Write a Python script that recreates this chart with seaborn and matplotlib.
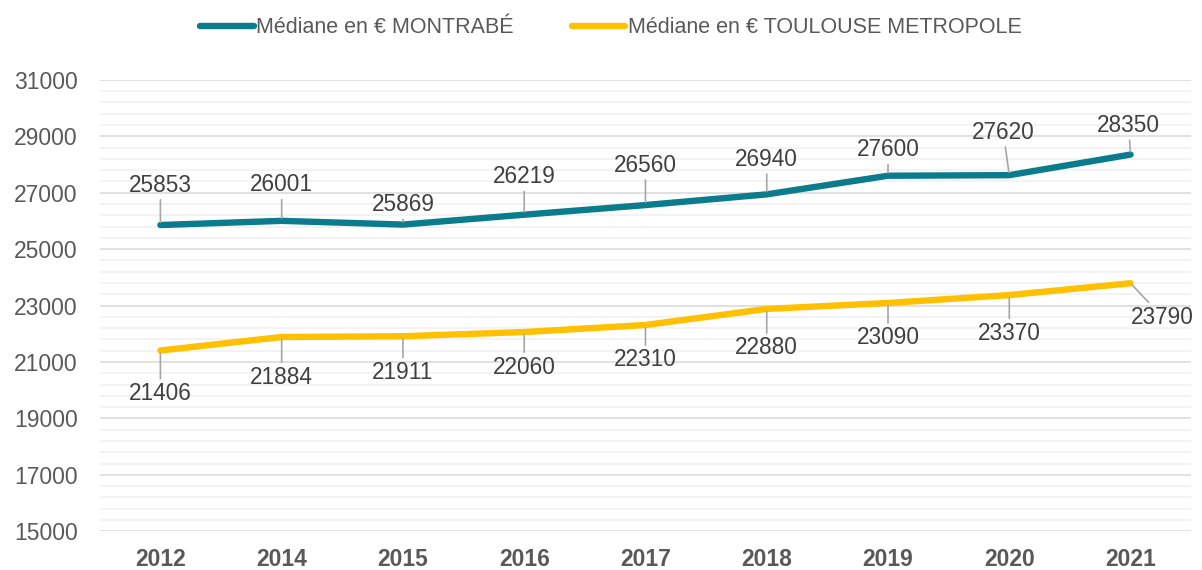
import numpy as np
import pandas as pd
import seaborn as sns
import matplotlib.pyplot as plt
from matplotlib.ticker import FixedLocator

# Data
years = ['2012', '2014', '2015', '2016', '2017', '2018', '2019', '2020', '2021']
montrabe = [25853, 26001, 25869, 26219, 26560, 26940, 27600, 27620, 28350]
toulouse = [21406, 21884, 21911, 22060, 22310, 22880, 23090, 23370, 23790]
series_names = ['Médiane en € MONTRABÉ', 'Médiane en € TOULOUSE METROPOLE']
yticks = [15000, 17000, 19000, 21000, 23000, 25000, 27000, 29000, 31000]

# label offsets in pixels (dx, dy)
off_montrabe = [(0, 40), (0, 36), (0, 20), (0, 38), (0, 40), (0, 35), (0, 26), (-6, 43), (-2, 29)]
off_toulouse = [(0, -43), (0, -40), (0, -36), (0, -35), (0, -35), (0, -39), (0, -35), (0, -38), (32, -34)]

colors = ['#0A7C8C', '#FFC000']

df = pd.DataFrame({
    'year': years * 2,
    'value': montrabe + toulouse,
    'serie': [series_names[0]] * len(years) + [series_names[1]] * len(years),
})

sns.set_style('white')
plt.rcParams['font.family'] = ['Liberation Sans', 'DejaVu Sans']

fig = plt.figure(figsize=(12.02, 5.70), dpi=100)
ax = fig.add_axes([0.083, 0.068, 0.908, 0.792])

sns.lineplot(data=df, x='year', y='value', hue='serie', palette=colors,
             linewidth=4.6, ax=ax, sort=False, legend=True)
for ln in ax.get_lines():
    ln.set_solid_capstyle('round')
    ln.set_solid_joinstyle('round')

ax.set_ylim(yticks[0], yticks[-1])
ax.set_xlim(-0.5, len(years) - 0.5)
ax.set_yticks(yticks)
ax.yaxis.set_minor_locator(FixedLocator(np.arange(yticks[0], yticks[-1] + 1, 400)))
ax.grid(which='major', axis='y', color='#d9d9d9', linewidth=1.1)
ax.grid(which='minor', axis='y', color='#f0f0f0', linewidth=1.1)
ax.grid(axis='x', visible=False)
ax.set_axisbelow(True)
for s in ax.spines.values():
    s.set_visible(False)
ax.set_xlabel('')
ax.set_ylabel('')
ax.tick_params(axis='y', which='both', length=0, pad=16, labelsize=16.5, labelcolor='#595959')
ax.tick_params(axis='x', length=0, pad=12, labelsize=16.5, labelcolor='#595959')
for t in ax.get_xticklabels():
    t.set_fontweight('bold')

# data labels with leader lines
for vals, offs in [(montrabe, off_montrabe), (toulouse, off_toulouse)]:
    for i, (v, (dx, dy)) in enumerate(zip(vals, offs)):
        ax.annotate(str(v), xy=(i, v), xytext=(dx, dy), textcoords='offset pixels',
                    ha='center', va='center', fontsize=16.3, color='#404040',
                    arrowprops=dict(arrowstyle='-', color='#a6a6a6', lw=1.2,
                                    shrinkA=0, shrinkB=2))

handles, labels = ax.get_legend_handles_labels()
ax.legend_.remove()
leg = fig.legend(handles, labels, loc='center', bbox_to_anchor=(0.508, 0.951), ncol=2,
                 frameon=False, fontsize=15.5, handlelength=2.5, handletextpad=0.1,
                 columnspacing=2.7)
for t in leg.get_texts():
    t.set_color('#595959')
for h in leg.get_lines():
    h.set_linewidth(4.6)
    h.set_solid_capstyle('round')

fig.savefig('out.png', dpi=100)
